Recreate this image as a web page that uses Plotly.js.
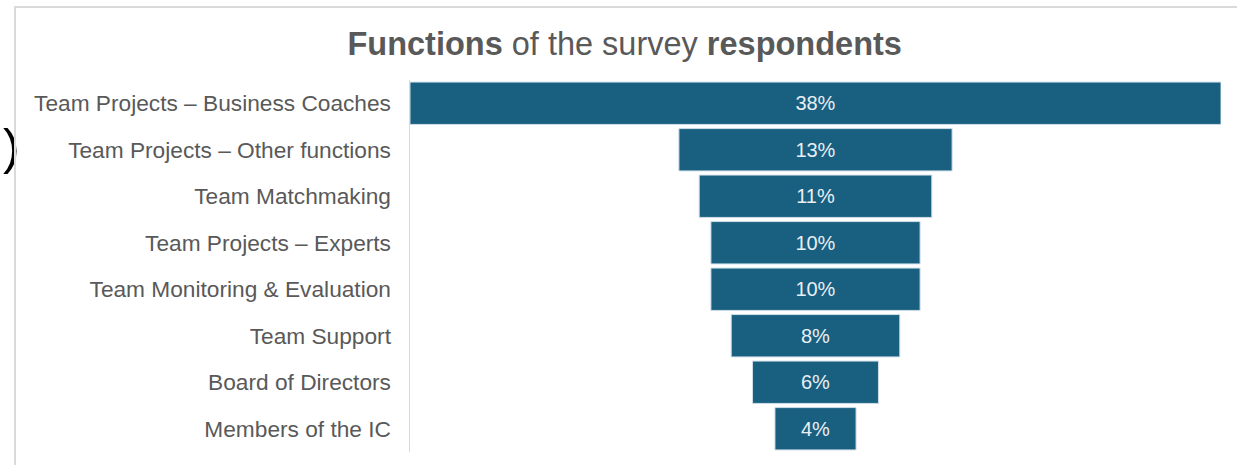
<!DOCTYPE html>
<html>
<head>
<meta charset="utf-8">
<script src="https://cdn.plot.ly/plotly-3.0.1.min.js"></script>
<style>
  html, body { margin: 0; padding: 0; background: #ffffff; }
  #wrap { position: relative; width: 1237px; height: 465px; overflow: hidden; }
  #chart { position: absolute; left: 0; top: 0; width: 1237px; height: 465px; }
  #frame { position: absolute; left: 14px; top: 6px; width: 1300px; height: 500px;
           border-left: 2px solid #dadada; border-top: 2px solid #dadada; pointer-events: none; }
</style>
</head>
<body>
<div id="wrap">
  <div id="chart"></div>
  <div id="frame"></div>
</div>
<script>
// Data
const categories = [
  "Team Projects \u2013 Business Coaches",
  "Team Projects \u2013 Other functions",
  "Team Matchmaking",
  "Team Projects \u2013 Experts",
  "Team Monitoring & Evaluation",
  "Team Support",
  "Board of Directors",
  "Members of the IC"
];
const shares = [38.0, 12.8, 10.9, 9.8, 9.8, 7.9, 5.9, 3.8];
const titleText = "<b>Functions</b> of the survey <b>respondents</b>";

const barColor = "#185f80";
const labelColor = "#595959";
const font = "Liberation Sans, Arial, sans-serif";

const trace = {
  type: "funnel",
  orientation: "h",
  y: categories,
  x: shares,
  texttemplate: "%{x:.0f}%",
  textposition: "inside",
  insidetextanchor: "middle",
  textfont: { family: font, size: 20, color: "#e9eff3" },
  marker: { color: barColor, line: { color: "#cfdde6", width: 1 } },
  connector: { visible: false },
  hoverinfo: "y+x"
};

const layout = {
  width: 1237,
  height: 465,
  margin: { l: 410, r: 16, t: 80, b: 13, pad: 0 },
  paper_bgcolor: "#ffffff",
  plot_bgcolor: "#ffffff",
  showlegend: false,
  funnelgap: 0.09,
  title: {
    text: titleText,
    font: { family: font, size: 32.5, color: labelColor },
    xref: "container", x: 0.505, xanchor: "center",
    yref: "container", y: 1 - 44 / 465, yanchor: "middle"
  },
  xaxis: { visible: false, range: [-19, 19], fixedrange: true },
  yaxis: {
    showline: true, linecolor: "#d9d9d9", linewidth: 1.5,
    ticks: "", showgrid: false, zeroline: false,
    ticklabelstandoff: 13,
    tickfont: { family: font, size: 22.7, color: labelColor }
  },
  annotations: [{
    text: ")",
    xref: "paper", yref: "paper",
    x: (11 - 410) / 811, y: (452 - 147) / 372,
    xanchor: "center", yanchor: "middle",
    showarrow: false,
    font: { family: font, size: 50, color: "#000000" }
  }]
};

Plotly.newPlot("chart", [trace], layout, { displayModeBar: false, staticPlot: true });
</script>
</body>
</html>
